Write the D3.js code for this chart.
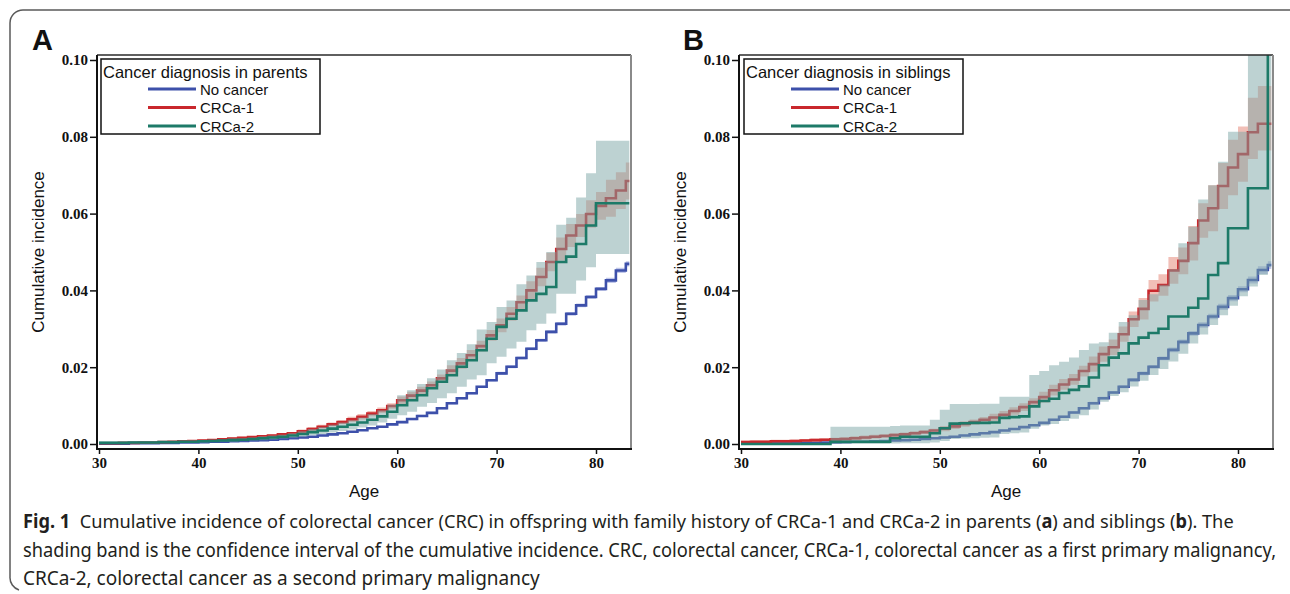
<html>
<head>
<script src="https://cdn.jsdelivr.net/npm/d3@7"></script>
<style>
    body { margin: 0; background: #fff; }
    svg text { font-family: "Liberation Sans", Arial, sans-serif; fill: #111; }
    .tick line { stroke: #111; stroke-width: 1.5px; }
</style>
</head>
<body>
<svg id="fig" width="1290" height="594"></svg>
<script>
// ages 30..83, one step per year
var ages = [30,31,32,33,34,35,36,37,38,39,40,41,42,43,44,45,46,47,48,49,50,51,52,53,54,55,56,57,58,59,60,61,62,63,64,65,66,67,68,69,70,71,72,73,74,75,76,77,78,79,80,81,82,83]
var endAge = 83.35
var xTicks = [30, 40, 50, 60, 70, 80]
var yTicks = [0, 0.02, 0.04, 0.06, 0.08, 0.10]
var groups = ["No cancer", "CRCa-1", "CRCa-2"]
var lineColors = ["#3d50aa", "#c9282d", "#1d7a68"]

// panel A: parents
var noneA   = [.0001,.0001,.0001,.0002,.0002,.0002,.0003,.0003,.0004,.0004,.0005,.0006,.0006,.0007,.0008,.0009,.0010,.0011,.0013,.0015,.0017,.0019,.0022,.0025,.0028,.0032,.0036,.0041,.0045,.0051,.0057,.0065,.0073,.0081,.0093,.0106,.0119,.0132,.0149,.0166,.0184,.0201,.0224,.0248,.0270,.0292,.0313,.0339,.0361,.0383,.0404,.0426,.0452,.0469]
var noneALo = [.0000,.0000,.0000,.0001,.0001,.0001,.0002,.0002,.0003,.0003,.0004,.0005,.0005,.0006,.0007,.0008,.0009,.0010,.0012,.0014,.0015,.0017,.0020,.0023,.0026,.0030,.0034,.0039,.0043,.0049,.0054,.0062,.0070,.0078,.0090,.0103,.0116,.0129,.0146,.0163,.0180,.0197,.0220,.0244,.0266,.0288,.0308,.0334,.0356,.0378,.0399,.0419,.0445,.0462]
var noneAHi = [.0002,.0002,.0002,.0003,.0003,.0003,.0004,.0004,.0005,.0005,.0006,.0007,.0007,.0008,.0009,.0010,.0011,.0012,.0014,.0016,.0019,.0021,.0024,.0027,.0030,.0034,.0038,.0043,.0047,.0053,.0060,.0068,.0076,.0084,.0096,.0109,.0122,.0135,.0152,.0169,.0188,.0205,.0228,.0252,.0274,.0296,.0318,.0344,.0366,.0388,.0409,.0433,.0459,.0476]

var crc1A   = [.0002,.0002,.0003,.0003,.0004,.0004,.0005,.0006,.0007,.0008,.0009,.0010,.0012,.0014,.0016,.0018,.0020,.0022,.0025,.0028,.0033,.0039,.0045,.0051,.0057,.0064,.0071,.0079,.0088,.0099,.0114,.0126,.0139,.0153,.0171,.0191,.0210,.0231,.0255,.0283,.0309,.0339,.0369,.0400,.0435,.0474,.0508,.0543,.0569,.0599,.0620,.0640,.0660,.0685]
var crc1ALo = [.0000,.0000,.0001,.0001,.0002,.0002,.0003,.0004,.0005,.0006,.0006,.0007,.0009,.0011,.0013,.0015,.0017,.0019,.0022,.0025,.0028,.0034,.0040,.0046,.0052,.0057,.0064,.0072,.0081,.0092,.0104,.0116,.0129,.0143,.0161,.0177,.0196,.0217,.0241,.0269,.0291,.0321,.0351,.0376,.0411,.0450,.0478,.0513,.0539,.0563,.0584,.0592,.0612,.0637]
var crc1AHi = [.0004,.0004,.0005,.0005,.0006,.0006,.0007,.0008,.0009,.0010,.0012,.0013,.0015,.0017,.0019,.0021,.0023,.0025,.0028,.0031,.0038,.0044,.0050,.0056,.0062,.0071,.0078,.0086,.0095,.0106,.0124,.0136,.0149,.0163,.0181,.0205,.0224,.0245,.0269,.0297,.0327,.0357,.0387,.0424,.0459,.0498,.0538,.0573,.0599,.0635,.0656,.0688,.0708,.0733]

var crc2A   = [.0003,.0003,.0003,.0004,.0004,.0004,.0005,.0005,.0006,.0006,.0007,.0008,.0009,.0010,.0011,.0013,.0015,.0017,.0019,.0022,.0026,.0031,.0035,.0040,.0045,.0050,.0056,.0063,.0072,.0084,.0101,.0114,.0127,.0145,.0162,.0179,.0201,.0218,.0244,.0274,.0305,.0326,.0348,.0374,.0391,.0409,.0474,.0488,.0521,.0569,.0627,.0627,.0627,.0627]
var crc2ALo = [.0000,.0000,.0000,.0001,.0001,.0001,.0002,.0002,.0003,.0003,.0004,.0005,.0006,.0006,.0007,.0009,.0010,.0012,.0014,.0016,.0019,.0023,.0026,.0030,.0034,.0038,.0043,.0048,.0056,.0066,.0075,.0084,.0097,.0107,.0119,.0132,.0149,.0168,.0179,.0210,.0227,.0249,.0266,.0296,.0313,.0340,.0391,.0391,.0426,.0460,.0495,.0495,.0495,.0495]
var crc2AHi = [.0007,.0007,.0007,.0007,.0007,.0007,.0008,.0008,.0009,.0009,.0010,.0011,.0012,.0014,.0015,.0017,.0020,.0022,.0024,.0028,.0033,.0039,.0044,.0050,.0056,.0062,.0069,.0078,.0088,.0102,.0127,.0140,.0156,.0171,.0194,.0218,.0237,.0260,.0298,.0318,.0357,.0374,.0416,.0439,.0474,.0500,.0571,.0589,.0642,.0705,.0790,.0790,.0790,.0790]

// panel B: siblings
var noneB   = [.0001,.0001,.0001,.0002,.0002,.0002,.0003,.0003,.0004,.0004,.0005,.0006,.0006,.0007,.0008,.0009,.0010,.0011,.0013,.0015,.0017,.0019,.0022,.0025,.0028,.0031,.0035,.0039,.0044,.0049,.0055,.0063,.0071,.0082,.0093,.0106,.0119,.0134,.0149,.0167,.0184,.0201,.0223,.0245,.0266,.0288,.0310,.0332,.0357,.0380,.0403,.0427,.0453,.0466]
var noneBLo = [.0000,.0000,.0000,.0001,.0001,.0001,.0002,.0002,.0003,.0003,.0004,.0005,.0005,.0006,.0007,.0008,.0009,.0010,.0012,.0014,.0015,.0017,.0020,.0023,.0026,.0029,.0033,.0037,.0042,.0047,.0052,.0060,.0068,.0079,.0090,.0102,.0115,.0130,.0145,.0162,.0179,.0196,.0218,.0239,.0260,.0282,.0303,.0325,.0349,.0372,.0395,.0418,.0443,.0456]
var noneBHi = [.0002,.0002,.0002,.0003,.0003,.0003,.0004,.0004,.0005,.0005,.0006,.0007,.0007,.0008,.0009,.0010,.0011,.0012,.0014,.0016,.0019,.0021,.0024,.0027,.0030,.0033,.0037,.0041,.0046,.0051,.0058,.0066,.0074,.0085,.0096,.0110,.0123,.0138,.0153,.0172,.0189,.0206,.0228,.0251,.0272,.0294,.0317,.0339,.0365,.0388,.0411,.0436,.0463,.0476]

var crc1B   = [.0005,.0006,.0006,.0007,.0007,.0008,.0009,.0010,.0011,.0012,.0013,.0015,.0017,.0019,.0021,.0023,.0025,.0028,.0031,.0035,.0040,.0046,.0052,.0057,.0063,.0069,.0076,.0086,.0096,.0109,.0122,.0140,.0155,.0168,.0190,.0208,.0234,.0252,.0286,.0325,.0352,.0399,.0414,.0452,.0477,.0523,.0582,.0614,.0672,.0720,.0755,.0812,.0834,.0834]
var crc1BLo = [.0001,.0002,.0002,.0003,.0003,.0004,.0005,.0006,.0007,.0008,.0008,.0010,.0012,.0014,.0016,.0018,.0020,.0023,.0026,.0030,.0033,.0039,.0045,.0050,.0056,.0059,.0066,.0076,.0086,.0099,.0108,.0126,.0141,.0154,.0176,.0188,.0214,.0232,.0266,.0305,.0324,.0371,.0386,.0417,.0442,.0478,.0537,.0554,.0612,.0648,.0683,.0742,.0764,.0764]
var crc1BHi = [.0009,.0010,.0010,.0011,.0011,.0012,.0013,.0014,.0015,.0016,.0018,.0020,.0022,.0024,.0026,.0028,.0030,.0033,.0036,.0040,.0047,.0053,.0059,.0064,.0070,.0079,.0086,.0096,.0106,.0119,.0136,.0154,.0169,.0182,.0204,.0228,.0254,.0272,.0306,.0345,.0380,.0427,.0442,.0487,.0512,.0568,.0627,.0674,.0732,.0792,.0827,.0902,.0932,.0932]

var crc2B   = [.0000,.0000,.0000,.0000,.0000,.0000,.0000,.0000,.0000,.0006,.0006,.0006,.0006,.0006,.0006,.0015,.0019,.0019,.0019,.0028,.0041,.0053,.0054,.0055,.0055,.0056,.0068,.0070,.0072,.0098,.0112,.0118,.0133,.0141,.0150,.0173,.0205,.0225,.0236,.0262,.0277,.0289,.0300,.0332,.0332,.0355,.0379,.0440,.0471,.0562,.0562,.0666,.0666,.1200]
var crc2BLo = [.0000,.0000,.0000,.0000,.0000,.0000,.0000,.0000,.0000,.0000,.0000,.0000,.0000,.0000,.0000,.0001,.0002,.0002,.0002,.0004,.0008,.0013,.0014,.0015,.0016,.0017,.0026,.0028,.0030,.0040,.0048,.0052,.0060,.0066,.0075,.0090,.0110,.0125,.0135,.0150,.0165,.0180,.0195,.0215,.0235,.0262,.0285,.0310,.0335,.0360,.0385,.0410,.0440,.0460]
var crc2BHi = [.0001,.0001,.0001,.0001,.0001,.0001,.0001,.0001,.0001,.0045,.0045,.0045,.0045,.0045,.0045,.0047,.0048,.0048,.0048,.0063,.0089,.0104,.0104,.0104,.0105,.0105,.0123,.0123,.0123,.0180,.0190,.0205,.0214,.0225,.0245,.0262,.0265,.0290,.0318,.0335,.0375,.0390,.0415,.0455,.0523,.0566,.0637,.0674,.0735,.0813,.0813,.1200,.1200,.1200]

var svg = d3.select("#fig")

// rounded outer frame of the figure
svg.append("path")
    .attr("d", "M1292,10 H23 A13,13 0 0 0 10,23 V577 A13,13 0 0 0 19,590")
    .attr("fill", "none")
    .attr("stroke", "#5a5a5a")
    .attr("stroke-width", 1.5)

function buildPoints(v, lo, hi) {
    var pts = ages.map((a, i) => ({age: a, v: v[i], lo: lo[i], hi: hi[i]}))
    var last = pts[pts.length - 1]
    pts.push({age: endAge, v: last.v, lo: last.lo, hi: last.hi})
    return pts
}

function styleTicks(axis) {
    axis.select(".domain").remove()
    axis.selectAll(".tick text")
        .style("font-family", '"Liberation Serif", "Times New Roman", serif')
        .style("font-weight", "bold")
        .style("font-size", "15px")
        .style("fill", "#111")
}

function drawPanel(opts) {
    var left = opts.left, top = 55, bottom = 449, right = opts.left + 534
    var x = d3.scaleLinear().domain([30, 80]).range([left + 2, left + 499])
    var y = d3.scaleLinear().domain([0, 0.1]).range([bottom - 5, top + 5])
    var g = svg.append("g")

    var clipId = "clip" + opts.letter
    svg.append("clipPath").attr("id", clipId)
        .append("rect").attr("x", left).attr("y", top).attr("width", right - left).attr("height", bottom - top)

    var plot = g.append("g").attr("clip-path", `url(#${clipId})`)
    var area = d3.area().curve(d3.curveStepAfter).x(d => x(d.age)).y0(d => y(d.lo)).y1(d => y(d.hi))
    var line = d3.line().curve(d3.curveStepAfter).x(d => x(d.age)).y(d => y(d.v))

    var bandStyle = [
        {fill: "#5060c0", opacity: 0.35},
        {fill: "#e07060", opacity: 0.45},
        {fill: "#7ba6a6", opacity: 0.5}
    ]
    opts.series.forEach((s, i) => {
        var pts = buildPoints(s[0], s[1], s[2])
        plot.append("path").datum(pts)
            .attr("d", area)
            .attr("fill", bandStyle[i].fill)
            .attr("fill-opacity", bandStyle[i].opacity)
        plot.append("path").datum(pts)
            .attr("d", line)
            .attr("fill", "none")
            .attr("stroke", lineColors[i])
            .attr("stroke-width", 2.6)
    })

    // frame
    g.append("line").attr("x1", left).attr("x2", right).attr("y1", top).attr("y2", top)
        .attr("stroke", "#2a2a2a").attr("stroke-width", 1.5)
    g.append("line").attr("x1", right).attr("x2", right).attr("y1", top).attr("y2", bottom)
        .attr("stroke", "#8a8a8a").attr("stroke-width", 2)
    g.append("line").attr("x1", left).attr("x2", left).attr("y1", top).attr("y2", bottom + 1)
        .attr("stroke", "#111").attr("stroke-width", 2)
    g.append("line").attr("x1", left).attr("x2", right + 1).attr("y1", bottom).attr("y2", bottom)
        .attr("stroke", "#111").attr("stroke-width", 2)

    g.append("g")
        .attr("transform", `translate(0,${bottom})`)
        .call(d3.axisBottom(x).tickValues(xTicks).tickSize(5).tickPadding(3).tickFormat(d3.format("d")))
        .call(styleTicks)
    g.append("g")
        .attr("transform", `translate(${left},0)`)
        .call(d3.axisLeft(y).tickValues(yTicks).tickSize(7).tickPadding(2).tickFormat(d3.format(".2f")))
        .call(styleTicks)

    // axis titles
    g.append("text")
        .attr("x", (left + right) / 2).attr("y", 497)
        .attr("text-anchor", "middle")
        .style("font-size", "17px")
        .text("Age")
    g.append("text")
        .attr("transform", `translate(${left - 53},${(top + bottom) / 2}) rotate(-90)`)
        .attr("text-anchor", "middle")
        .style("font-size", "17px")
        .text("Cumulative incidence")

    // panel letter
    g.append("text")
        .attr("x", opts.letterX).attr("y", 50)
        .style("font-size", "29px").style("font-weight", "bold")
        .text(opts.letter)

    // legend
    var lx = left + opts.legendDx
    g.append("rect")
        .attr("x", lx).attr("y", 59).attr("width", 219).attr("height", 75)
        .attr("fill", "#fff").attr("stroke", "#111").attr("stroke-width", 1.5)
    g.append("text")
        .attr("x", lx + 2).attr("y", 78)
        .style("font-size", "16.5px")
        .text(opts.legendTitle)
    groups.forEach((name, i) => {
        var ly = 89 + i * 18.5
        g.append("line")
            .attr("x1", lx + 47).attr("x2", lx + 95).attr("y1", ly).attr("y2", ly)
            .attr("stroke", lineColors[i]).attr("stroke-width", 3)
        g.append("text")
            .attr("x", lx + 99).attr("y", ly + 5.5)
            .style("font-size", "15px")
            .text(name)
    })
}

drawPanel({
    letter: "A", letterX: 32, left: 97, legendDx: 4,
    legendTitle: "Cancer diagnosis in parents",
    series: [[noneA, noneALo, noneAHi], [crc1A, crc1ALo, crc1AHi], [crc2A, crc2ALo, crc2AHi]]
})
drawPanel({
    letter: "B", letterX: 683, left: 739, legendDx: 5,
    legendTitle: "Cancer diagnosis in siblings",
    series: [[noneB, noneBLo, noneBHi], [crc1B, crc1BLo, crc1BHi], [crc2B, crc2BLo, crc2BHi]]
})

// caption: each line is squeezed horizontally to the condensed width of the original
var caption = [
    {y: 528, width: 1211, parts: [["Fig. 1", true], ["\u00a0 Cumulative incidence of colorectal cancer (CRC) in offspring with family history of CRCa-1 and CRCa-2 in parents (", false], ["a", true], [") and siblings (", false], ["b", true], ["). The", false]]},
    {y: 557, width: 1254, parts: [["shading band is the confidence interval of the cumulative incidence. CRC, colorectal cancer, CRCa-1, colorectal cancer as a first primary malignancy,", false]]},
    {y: 585, width: 517, parts: [["CRCa-2, colorectal cancer as a second primary malignancy", false]]}
]
caption.forEach(c => {
    var t = svg.append("text")
        .attr("x", 0).attr("y", 0)
        .style("font-family", '"Noto Sans", sans-serif')
        .style("font-size", "19px")
        .style("fill", "#231f20")
    c.parts.forEach(p => {
        t.append("tspan").style("font-weight", p[1] ? "bold" : "normal").text(p[0])
    })
    var natural = t.node().getComputedTextLength()
    t.attr("transform", `translate(23,${c.y}) scale(${c.width / natural},1)`)
})
</script>
</body>
</html>
